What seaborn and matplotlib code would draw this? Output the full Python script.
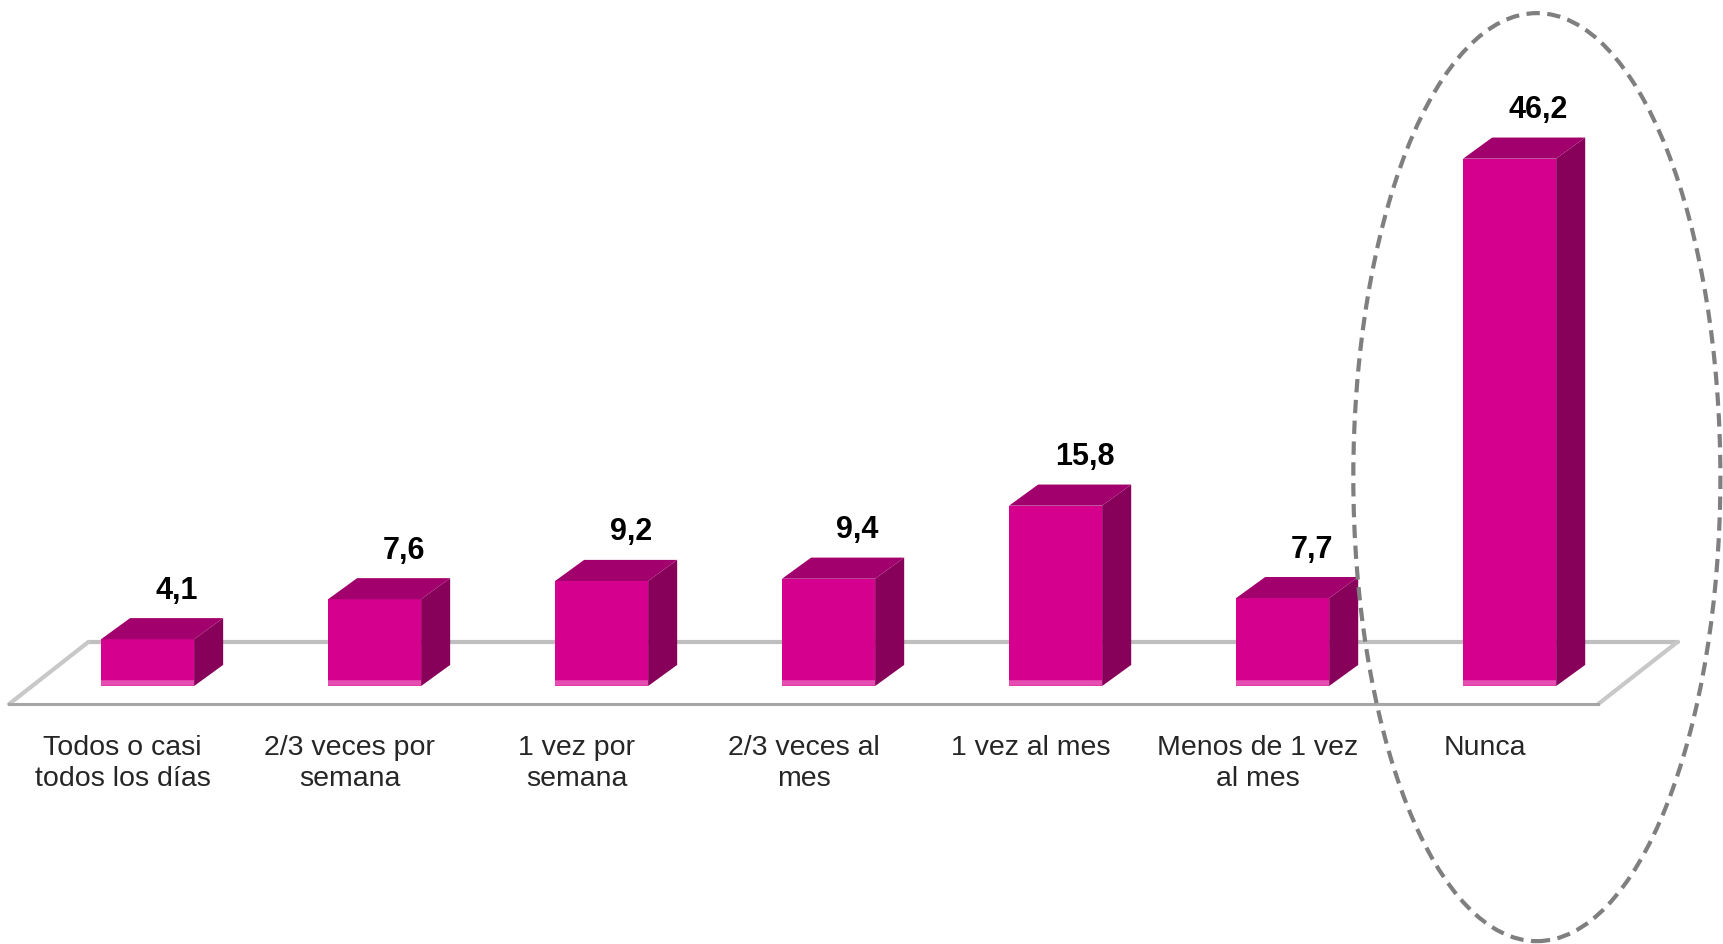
import matplotlib
matplotlib.use("Agg")
import matplotlib.pyplot as plt
import seaborn as sns
from matplotlib.patches import Polygon, Ellipse

# categorias y porcentajes
categories = ["Todos o casi\ntodos los días", "2/3 veces por\nsemana", "1 vez por\nsemana",
              "2/3 veces al\nmes", "1 vez al mes", "Menos de 1 vez\nal mes", "Nunca"]
values = [4.1, 7.6, 9.2, 9.4, 15.8, 7.7, 46.2]
highlight = "Nunca"

FRONT = "#d6008f"
TOP = "#a2006c"
SIDE = "#870059"
BAND = "#e64db2"

sns.set_style("white")
plt.rcParams["font.family"] = ["Liberation Sans", "DejaVu Sans"]

fig = plt.figure(figsize=(17.23, 9.44), dpi=100)
ax = fig.add_axes([0, 0, 1, 1])

sns.barplot(x=categories, y=values, color=FRONT, width=0.41, saturation=1, ax=ax, zorder=3)

ax.set_xlim(-0.54, 7.05)
ax.set_ylim(-22.6, 60.1)

# profundidad del efecto 3d (en unidades de datos)
DX, DY = 0.128, 1.85
shift = 0.11
floor_y = -1.58
floor_dx, floor_dy = 0.35, 5.45

# suelo: linea de fondo y lados
ax.plot([-0.5 + floor_dx, 6.5 + floor_dx], [floor_y + floor_dy] * 2, color="#bfbfbf", lw=3, zorder=1)
ax.plot([-0.5, -0.5 + floor_dx], [floor_y, floor_y + floor_dy], color="#c8c8c8", lw=3, zorder=1)
ax.plot([6.5, 6.5 + floor_dx], [floor_y, floor_y + floor_dy], color="#c8c8c8", lw=3, zorder=1)

for p, v in zip(ax.patches, values):
    p.set_x(p.get_x() + shift)
    p.set_edgecolor("none")
    x0 = p.get_x()
    x1 = x0 + p.get_width()
    h = p.get_height()
    side = Polygon([(x1, 0), (x1 + DX, DY), (x1 + DX, h + DY), (x1, h)],
                   closed=True, facecolor=SIDE, edgecolor="none", zorder=3)
    top = Polygon([(x0, h), (x1, h), (x1 + DX, h + DY), (x0 + DX, h + DY)],
                  closed=True, facecolor=TOP, edgecolor="none", zorder=3)
    ax.add_patch(side)
    ax.add_patch(top)
    ax.plot([x0, x1], [0.25, 0.25], color=BAND, lw=4, solid_capstyle="butt", zorder=4)
    ax.annotate(f"{v:.1f}".replace(".", ","), xy=((x0 + x1) / 2 + DX, h + DY),
                xytext=(0, 14), textcoords="offset points", ha="center", va="baseline",
                fontsize=22, fontweight="bold", color="black")

# eje frontal
for s in ["top", "right", "left"]:
    ax.spines[s].set_visible(False)
ax.spines["bottom"].set_position(("data", floor_y))
ax.spines["bottom"].set_bounds(-0.5, 6.5)
ax.spines["bottom"].set_color("#a6a6a6")
ax.spines["bottom"].set_linewidth(2.2)
ax.set_yticks([])
ax.set_xticks(range(len(categories)))
ax.set_xticklabels(categories, fontsize=20.5, linespacing=1.25)
ax.set_xticks([i - 0.5 for i in range(len(categories) + 1)], minor=True)
ax.tick_params(axis="x", which="major", length=0, pad=22)
ax.tick_params(axis="x", which="minor", length=6, width=1.5, color="#a6a6a6", direction="out")

# elipse discontinua alrededor de "Nunca"
idx = categories.index(highlight)
ell = Ellipse((idx + 0.23, 18.3), 1.617, 81.3, fill=False, edgecolor="#7f7f7f",
              lw=3, linestyle=(0, (3.2, 1.8)), zorder=5, clip_on=False)
ax.add_patch(ell)

fig.savefig("out.png", dpi=100)
